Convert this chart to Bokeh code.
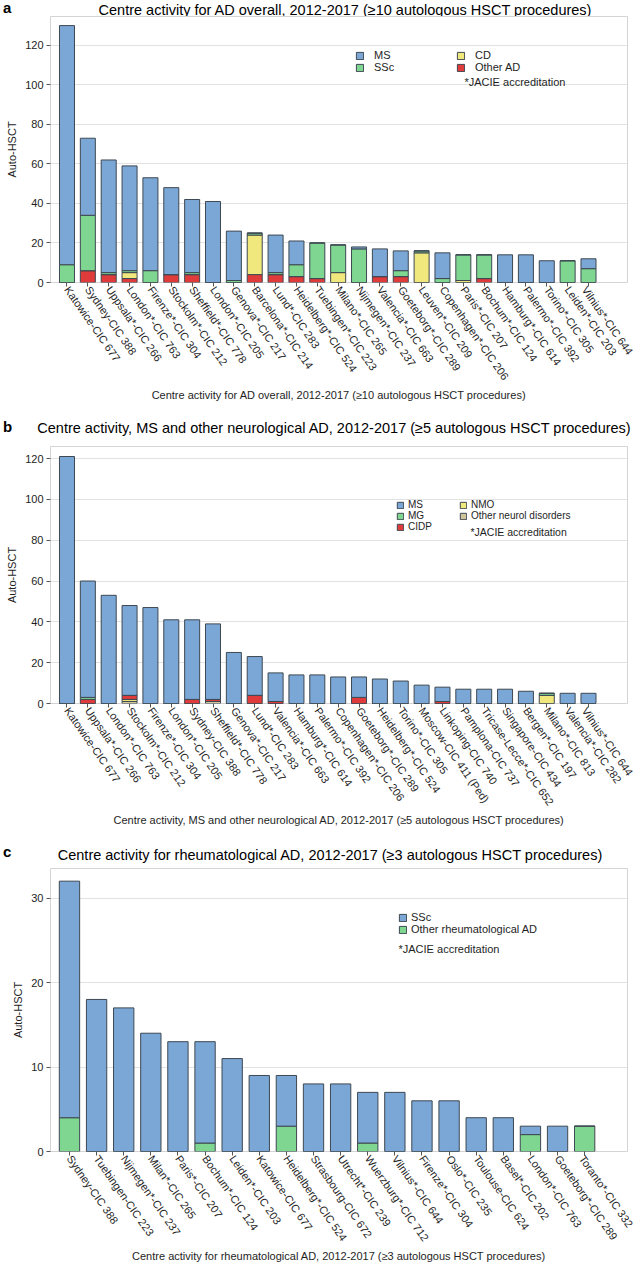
from bokeh.plotting import figure
from bokeh.models import ColumnDataSource, Range1d, FixedTicker, Legend, LegendItem, Label, Div
from bokeh.layouts import column
from bokeh.embed import file_html
from bokeh.resources import INLINE

FONT = "Liberation Sans"

# ---------------- Panel a: AD overall ----------------
a_centres = ["Katowice-CIC 677", "Sydney-CIC 388", "Uppsala*-CIC 266", "London*-CIC 763",
             "Firenze*-CIC 304", "Stockolm*-CIC 212", "Sheffield*-CIC 778", "London*-CIC 205",
             "Genova*-CIC 217", "Barcelona*-CIC 214", "Lund*-CIC 283", "Heidelberg*-CIC 524",
             "Tuebingen*-CIC 223", "Milano*-CIC 265", "Nijmegen*-CIC 237", "Valencia*-CIC 663",
             "Goeteborg*-CIC 289", "Leuven*-CIC 209", "Copenhagen*-CIC 206", "Paris*-CIC 207",
             "Bochum*-CIC 124", "Hamburg*-CIC 614", "Palermo*-CIC 392", "Torino*-CIC 305",
             "Leiden*-CIC 203", "Vilnius*-CIC 644"]
a_other_ad = [0, 6, 4, 2, 0, 4, 4, 0, 0, 4, 4, 3, 2, 0, 0, 3, 3, 0, 0, 0, 2, 0, 0, 0, 0, 0]
a_cd       = [0, 0, 0, 3, 0, 0, 0, 0, 0, 20, 0, 0, 0, 5, 0, 0, 0, 15, 0, 1, 0, 0, 0, 0, 0, 0]
a_ssc      = [9, 28, 1, 1, 6, 0, 1, 0, 1, 1, 1, 6, 18, 14, 17, 0, 3, 1, 2, 13, 12, 0, 0, 0, 11, 7]
a_ms       = [121, 39, 57, 53, 47, 44, 37, 41, 25, 0, 19, 12, 0, 0, 1, 14, 10, 0, 13, 0, 0, 14, 14, 11, 0, 5]

# ---------------- Panel b: MS and other neurological AD ----------------
b_centres = ["Katowice-CIC 677", "Uppsala*-CIC 266", "London*-CIC 763", "Stockolm*-CIC 212",
             "Firenze*-CIC 304", "London*-CIC 205", "Sydney-CIC 388", "Sheffield*-CIC 778",
             "Genova*-CIC 217", "Lund*-CIC 283", "Valencia*-CIC 663", "Hamburg*-CIC 614",
             "Palermo*-CIC 392", "Copenhagen*-CIC 206", "Goeteborg*-CIC 289", "Heidelberg*-CIC 524",
             "Torino*-CIC 305", "Moscow-CIC 411 (Ped)", "Linkoping-CIC 740", "Pamplona-CIC 737",
             "Tricase-Lecce*-CIC 652", "Singapore-CIC 434", "Bergen*-CIC 197", "Milano*-CIC 813",
             "Valencia*-CIC 282", "Vilnius*-CIC 644"]
b_other_neuro = [0, 0, 0, 1, 0, 0, 0, 1, 0, 0, 0, 0, 0, 0, 0, 0, 0, 0, 0, 0, 0, 0, 0, 0, 0, 0]
b_nmo         = [0, 0, 0, 1, 0, 0, 0, 0, 0, 0, 0, 0, 0, 0, 0, 0, 0, 0, 0, 0, 0, 0, 0, 4, 0, 0]
b_cidp        = [0, 2, 0, 2, 0, 0, 2, 1, 0, 4, 1, 0, 0, 0, 3, 0, 0, 0, 1, 0, 0, 0, 0, 0, 0, 0]
b_mg          = [0, 1, 0, 0, 0, 0, 0, 0, 0, 0, 0, 0, 0, 0, 0, 0, 0, 0, 0, 0, 0, 0, 0, 1, 0, 0]
b_ms          = [121, 57, 53, 44, 47, 41, 39, 37, 25, 19, 14, 14, 14, 13, 10, 12, 11, 9, 7, 7, 7, 7, 6, 0, 5, 5]

# ---------------- Panel c: rheumatological AD ----------------
c_centres = ["Sydney-CIC 388", "Tuebingen-CIC 223", "Nijmegen*-CIC 237", "Milan*-CIC 265",
             "Paris*-CIC 207", "Bochum*-CIC 124", "Leiden*-CIC 203", "Katowice-CIC 677",
             "Heidelberg*-CIC 524", "Strasbourg-CIC 672", "Utrecht*-CIC 239", "Wuerzburg*-CIC 712",
             "Vilnius*-CIC 644", "Firenze*-CIC 304", "Oslo*-CIC 235", "Toulouse-CIC 624",
             "Basel*-CIC 202", "London*-CIC 763", "Goeteborg*-CIC 289", "Toranto*-CIC 332"]
c_other_rheum = [4, 0, 0, 0, 0, 1, 0, 0, 3, 0, 0, 1, 0, 0, 0, 0, 0, 2, 0, 3]
c_ssc         = [28, 18, 17, 14, 13, 12, 11, 9, 6, 8, 8, 6, 7, 6, 6, 4, 4, 1, 3, 0]

ticks_ab = [0, 20, 40, 60, 80, 100, 120]
ticks_c = [0, 10, 20, 30]

title_a = "Centre activity for AD overall, 2012-2017 (\u226510 autologous HSCT procedures)"
title_b = "Centre activity, MS and other neurological AD, 2012-2017 (\u22655 autologous HSCT procedures)"
title_c = "Centre activity for rheumatological AD, 2012-2017 (\u22653 autologous HSCT procedures)"

BLUE, GREEN, YELLOW, RED, TAN = "#7ba7d6", "#7ed690", "#f0e87c", "#e03b3b", "#cfc59c"
OUTLINE = "#3e4852"
TXT = "#1e1e1e"


def header(letter, title, height, letter_top, title_cx, title_top):
    t = title.replace("\u2265", "&#8805;")
    html = ('<div style="position:relative;width:640px;height:%dpx;font-family:\'Liberation Sans\',Arial,sans-serif;color:#000;">'
            '<span style="position:absolute;left:3px;top:%spx;font-size:15px;font-weight:bold;line-height:16px;">%s</span>'
            '<span style="position:absolute;left:%spx;top:%spx;transform:translateX(-50%%);font-size:14.5px;'
            'line-height:16px;white-space:nowrap;">%s</span></div>') % (height, letter_top, letter, title_cx, title_top, t)
    return Div(text=html, width=640, height=height, margin=0)


def make_panel(centres, keys, vals, colors, ymax, yticks, frame_h, bottom, bar_w, pad_l, pad_r, xtitle):
    n = len(centres)
    data = {"x": list(range(n))}
    for k, v in zip(keys, vals):
        data[k] = v
    src = ColumnDataSource(data)
    p = figure(title=None, frame_width=577, frame_height=frame_h, min_border_left=50, min_border_right=8,
               min_border_top=0, min_border_bottom=bottom,
               x_range=Range1d(-pad_l, n - 1 + pad_r), y_range=Range1d(0, ymax),
               output_backend="svg", toolbar_location=None)
    rs = p.vbar_stack(keys, x="x", width=bar_w, source=src, fill_color=colors,
                      line_color=OUTLINE, line_width=1)
    p.xaxis.ticker = FixedTicker(ticks=list(range(n)))
    p.xaxis.major_label_overrides = {i: c for i, c in enumerate(centres)}
    p.xaxis.major_label_orientation = -0.96
    p.yaxis.ticker = FixedTicker(ticks=yticks)
    p.ygrid.ticker = FixedTicker(ticks=yticks)
    for ax in (p.xaxis, p.yaxis):
        ax.axis_line_color = None
        ax.minor_tick_line_color = None
        ax.major_tick_in = 0
        ax.major_tick_out = 4
        ax.major_tick_line_color = "#555555"
        ax.major_label_text_font = FONT
        ax.major_label_text_font_size = "11px"
        ax.major_label_text_color = TXT
        ax.axis_label_text_font = FONT
        ax.axis_label_text_font_style = "normal"
        ax.axis_label_text_font_size = "11px"
        ax.axis_label_text_color = TXT
    p.yaxis.major_label_standoff = 3
    p.xaxis.major_label_standoff = 1
    p.yaxis.axis_label = "Auto-HSCT"
    p.yaxis.axis_label_standoff = 4
    p.xaxis.axis_label = xtitle
    p.xaxis.axis_label_standoff = 0
    p.xgrid.grid_line_color = None
    p.ygrid.grid_line_color = "#e2e2e2"
    p.outline_line_color = "#d4d4d4"
    return p, rs


def add_legend(p, items, x, y, fs, standoff, spacing, gw=9):
    leg = Legend(items=items, location=(x, y), orientation="vertical",
                 background_fill_alpha=0, border_line_alpha=0, padding=0, margin=0, spacing=spacing,
                 glyph_width=gw, glyph_height=gw, label_standoff=standoff,
                 label_text_font=FONT, label_text_font_size=fs, label_text_color=TXT,
                 label_height=9)
    p.add_layout(leg)


def jacie(p, x, y, fs="11px"):
    p.add_layout(Label(x=x, y=y, x_units="screen", y_units="screen", text="*JACIE accreditation",
                       text_font=FONT, text_font_size=fs, text_baseline="middle",
                       text_align="left", text_color=TXT))


# ---- panel a
ha = header("a", title_a, 16, 0, 345, 2)
pa, ra = make_panel(a_centres, ["other_ad", "cd", "ssc", "ms"], [a_other_ad, a_cd, a_ssc, a_ms],
                    [RED, YELLOW, GREEN, BLUE], 134.6, ticks_ab, 266, 130, 0.72, 0.79, 1.87, title_a)
add_legend(pa, [LegendItem(label="MS", renderers=[ra[3]]), LegendItem(label="SSc", renderers=[ra[2]])],
           305, 209, "11px", 10, -1)
add_legend(pa, [LegendItem(label="CD", renderers=[ra[1]]), LegendItem(label="Other AD", renderers=[ra[0]])],
           406, 209, "11px", 10, -1)
jacie(pa, 414, 201)

# ---- panel b
hb = header("b", title_b, 34, 7, 334, 8)
pb, rb = make_panel(b_centres, ["other_neuro", "nmo", "cidp", "mg", "ms"],
                    [b_other_neuro, b_nmo, b_cidp, b_mg, b_ms],
                    [TAN, YELLOW, RED, GREEN, BLUE], 125.9, ticks_ab, 257, 137, 0.72, 0.79, 1.87, title_b)
add_legend(pb, [LegendItem(label="MS", renderers=[rb[4]]), LegendItem(label="MG", renderers=[rb[3]]),
                LegendItem(label="CIDP", renderers=[rb[2]])], 346, 171, "10px", 4, -1, 8)
add_legend(pb, [LegendItem(label="NMO", renderers=[rb[1]]),
                LegendItem(label="Other neurol disorders", renderers=[rb[0]])], 409, 182, "10px", 4, -1, 8)
jacie(pb, 420, 172, "10.5px")

# ---- panel c
hc = header("c", title_c, 28, 4, 330, 7)
pc, rc = make_panel(c_centres, ["other_rheum", "ssc"], [c_other_rheum, c_ssc],
                    [GREEN, BLUE], 33.5, ticks_c, 283, 110, 0.75, 0.70, 1.58, title_c)
add_legend(pc, [LegendItem(label="SSc", renderers=[rc[1]]),
                LegendItem(label="Other rheumatological AD", renderers=[rc[0]])], 348, 216, "11px", 4, -2)
jacie(pc, 348, 203)

layout = column(ha, pa, hb, pb, hc, pc, spacing=0)
open("out.html", "w", encoding="utf-8").write(file_html(layout, INLINE))
